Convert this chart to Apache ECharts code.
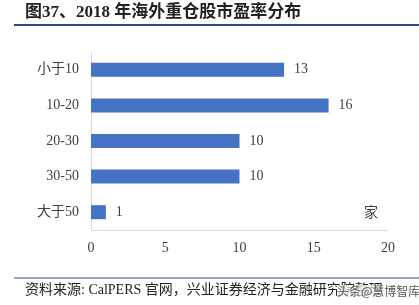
<!DOCTYPE html>
<html><head><meta charset="utf-8">
<script src="https://cdn.jsdelivr.net/npm/echarts@6/dist/echarts.min.js"></script>
<style>html,body{margin:0;padding:0;background:#fff}#c{width:419px;height:305px}</style>
</head><body><div id="c"></div>
<script>
var categories = ['小于10', '10-20', '20-30', '30-50', '大于50'];
var counts = [13, 16, 10, 10, 1];
var xTicks = [0, 5, 10, 15, 20];
var serif = '"Times New Roman","Liberation Serif","Noto Sans CJK SC",serif';
var chart = echarts.init(document.getElementById('c'));
chart.setOption({
  animation: false,
  grid: {left: 91, right: 31, top: 52, bottom: 75, containLabel: false},
  xAxis: {
    type: 'value', min: xTicks[0], max: xTicks[xTicks.length - 1], interval: 5,
    axisLine: {show: false}, axisTick: {show: false},
    splitLine: {show: false},
    axisLabel: {color: '#404040', fontFamily: serif, fontSize: 14, margin: 11}
  },
  yAxis: {
    type: 'category', data: categories, inverse: true,
    axisLine: {show: true, lineStyle: {color: '#d9d9d9', width: 1}},
    axisTick: {show: false},
    axisLabel: {color: '#404040', fontFamily: serif, fontSize: 14, margin: 12}
  },
  series: [{
    type: 'bar', data: counts, barWidth: 14,
    itemStyle: {color: '#4472C4'},
    label: {show: true, position: 'right', distance: 10, color: '#404040', fontFamily: serif, fontSize: 14}
  }],
  graphic: [
    {type: 'text', left: 25, top: 4, style: {text: '图37、2018 年海外重仓股市盈率分布', font: 'bold 17px ' + serif, fill: '#222'}},
    {type: 'line', shape: {x1: 14, y1: 25, x2: 419, y2: 25}, style: {stroke: '#2e4a87', lineWidth: 2}},
    {type: 'line', shape: {x1: 91, y1: 230.5, x2: 388, y2: 230.5}, style: {stroke: '#d9d9d9', lineWidth: 1}},
    {type: 'text', left: 364, top: 206, style: {text: '家', font: '14px ' + serif, fill: '#404040'}},
    {type: 'line', shape: {x1: 14, y1: 278, x2: 419, y2: 278}, style: {stroke: '#6f86b3', lineWidth: 1.5}},
    {type: 'text', left: 25, top: 283, style: {text: '资料来源: CalPERS 官网，兴业证券经济与金融研究院整理', font: '14px ' + serif, fill: '#222'}},
    {type: 'text', left: 337, top: 285, style: {text: '头条@慧博智库', font: '12px "Noto Sans CJK SC",sans-serif', fill: '#555', backgroundColor: 'rgba(255,255,255,0.7)'}}
  ]
});
</script></body></html>
